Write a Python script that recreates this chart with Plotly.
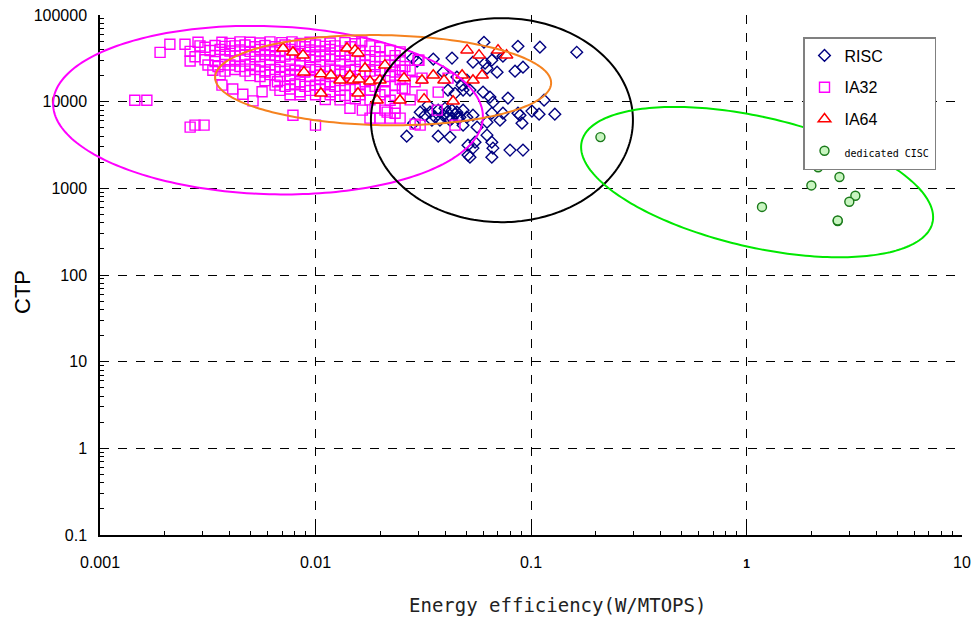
import numpy as np
import plotly.graph_objects as go

# ---------------- data ----------------
risc_x = [0.0605, 0.0870, 0.110, 0.163, 0.0696, 0.0658, 0.0741, 0.0538, 0.0612, 0.0430,
          0.0352, 0.0282, 0.0296, 0.0625, 0.0696, 0.0843, 0.0918, 0.0391, 0.0453, 0.0504,
          0.0478, 0.0412, 0.0444, 0.0484, 0.0521, 0.0599, 0.0645, 0.0666, 0.0782, 0.115,
          0.101, 0.109, 0.129, 0.0870, 0.0741, 0.0658, 0.0718, 0.0889, 0.0908, 0.0333,
          0.0306, 0.0322, 0.0340, 0.0371, 0.0408, 0.0430, 0.0453, 0.0484, 0.0408, 0.0430,
          0.0458, 0.0504, 0.0538, 0.0347, 0.0378, 0.0421, 0.0285, 0.0484, 0.0562, 0.0625,
          0.0468, 0.0265, 0.0371, 0.0421, 0.0510, 0.0538, 0.0625, 0.0658, 0.0666, 0.0799,
          0.0918, 0.0521, 0.0658, 0.0550, 0.0510, 0.0391, 0.0444, 0.0399, 0.0359]
risc_y = [48500, 43600, 42500, 37200, 36300, 30100, 33500, 28600, 27800, 31800,
          31000, 31800, 29300, 24300, 21900, 22500, 25000, 21900, 19200, 17700,
          15500, 13600, 12500, 13600, 13600, 12900, 11300, 9860, 11000, 10400,
          7780, 7180, 7180, 7360, 7360, 7360, 6120, 6980, 5650, 9120,
          7570, 6980, 7570, 7980, 7570, 7980, 7570, 7980, 6620, 6450,
          6450, 6620, 6980, 6120, 6120, 6120, 5650, 5360, 5080, 5800,
          6620, 4000, 4000, 3900, 3150, 2910, 4110, 3410, 2910, 2760,
          2760, 2290, 2290, 3410, 2420, 6980, 7180, 8400, 6620]

ia32_x = [
    # ~48000
    0.00211, 0.00248, 0.00285, 0.00368, 0.00401, 0.00446, 0.00497, 0.00553, 0.00615, 0.00698,
    0.00778, 0.00848, 0.00943, 0.0105, 0.0117, 0.0137, 0.0153, 0.0164,
    # ~44000
    0.00291, 0.00307, 0.00342, 0.0038, 0.00423, 0.00471, 0.00524, 0.00583, 0.00649, 0.00722,
    0.00803, 0.00894, 0.0100, 0.0111, 0.0123, 0.0145, 0.0179, 0.0199,
    # ~39000
    0.0019, 0.00262, 0.00324, 0.00361, 0.00401, 0.00446, 0.00497, 0.00553, 0.00615, 0.00684,
    0.00762, 0.00848, 0.00943, 0.0105, 0.0117, 0.0130, 0.0161, 0.0189, 0.0222, 0.0247,
    # ~34000
    0.00276, 0.00342, 0.0038, 0.00423, 0.00471, 0.00524, 0.00583, 0.00649, 0.00722, 0.00803,
    0.00894, 0.0100, 0.0111, 0.0123, 0.0137, 0.0153, 0.0170, 0.0199, 0.0234,
    # ~30000
    0.00262, 0.00307, 0.00342, 0.0038, 0.00423, 0.00471, 0.00553, 0.00615, 0.00684, 0.00762,
    0.00848, 0.00943, 0.0105, 0.0117, 0.0130, 0.0145, 0.0161, 0.0179, 0.0210, 0.0247, 0.0302,
    # ~26000
    0.00317, 0.00353, 0.00401, 0.00446, 0.00497, 0.00553, 0.00615, 0.00684, 0.00762, 0.00848,
    0.00943, 0.0105, 0.0117, 0.0130, 0.0145, 0.0170, 0.0189, 0.0222, 0.0260,
    # ~23000
    0.00334, 0.0038, 0.00423, 0.00471, 0.00524, 0.00583, 0.00649, 0.00722, 0.00803, 0.00894,
    0.0100, 0.0111, 0.0123, 0.0137, 0.0153, 0.0179, 0.0199, 0.0234, 0.0275,
    # ~20000
    0.00361, 0.00497, 0.00553, 0.00615, 0.00684, 0.00762, 0.00848, 0.00943, 0.0105, 0.0117,
    0.0130, 0.0145, 0.0161, 0.0189, 0.0222, 0.0247,
    # ~17500
    0.00583, 0.00666, 0.00762, 0.00848, 0.00943, 0.0105, 0.0117, 0.0130, 0.0145, 0.0170,
    0.0210, 0.0247, 0.0290,
    # ~15500
    0.00368, 0.00649, 0.00722, 0.00803, 0.00894, 0.0100, 0.0111, 0.0123, 0.0137, 0.0161,
    0.0189, 0.0234,
    # ~13600
    0.00413, 0.00684, 0.00762, 0.00848, 0.00943, 0.0105, 0.0117, 0.0130, 0.0153, 0.0179,
    0.0210, 0.0260,
    # ~12000
    0.00460, 0.00565, 0.00762, 0.00848, 0.0100, 0.0117, 0.0137, 0.0161, 0.0199, 0.0234,
    # ~10400
    0.00145, 0.00165, 0.00513, 0.0111, 0.0130, 0.0153, 0.0179, 0.0222, 0.0275,
    # lower / scattered
    0.00786, 0.0100, 0.00262, 0.00276, 0.00304, 0.0165, 0.0179, 0.0199, 0.0222, 0.0247,
    0.0215, 0.0234, 0.0290, 0.0306, 0.0367, 0.0444, 0.0299, 0.0312, 0.0412, 0.0253,
    0.0253, 0.0312, 0.0371, 0.0189, 0.0210, 0.0234, 0.01445]
ia32_y = [
    46000, 46000, 48500, 48500, 47000, 49000, 48500, 47500, 49000, 48000,
    49000, 47000, 48500, 49000, 47500, 48000, 46500, 49000,
    44000, 42500, 44500, 43500, 44000, 45000, 43000, 44500, 43000, 45000,
    44000, 43000, 45000, 43500, 44000, 43000, 44000, 42000,
    37000, 38000, 39000, 40000, 38500, 39500, 38000, 40000, 38500, 39000,
    40000, 38000, 39500, 38500, 40000, 38500, 39000, 38000, 39000, 37500,
    33000, 34000, 35000, 33500, 34500, 33000, 35000, 34000, 33500, 35000,
    34000, 33000, 34500, 33500, 35000, 33500, 34000, 33000, 34000,
    29500, 30500, 29000, 30500, 29500, 31000, 29500, 30500, 29000, 31000,
    29500, 30500, 29000, 31000, 29500, 30000, 29000, 30500, 29500, 30000, 30000,
    26500, 25500, 26500, 25500, 27000, 25500, 26500, 25000, 27000, 26000,
    25000, 26500, 25500, 27000, 25500, 26500, 25500, 26500, 25500,
    23000, 22500, 23500, 22500, 23500, 22000, 23500, 22500, 23000, 22000,
    23500, 22500, 23000, 22000, 23500, 22500, 23000, 22000, 23000,
    20500, 20000, 19500, 20500, 19500, 20000, 20500, 19500, 20000, 19500,
    20500, 19500, 20000, 20500, 19500, 20000,
    17500, 17000, 18000, 17000, 17500, 18000, 17000, 17500, 18000, 17000,
    17500, 18000, 17000,
    15500, 15500, 15000, 16000, 15000, 15500, 16000, 15000, 15500, 16000,
    15000, 15500,
    14000, 13500, 14000, 13000, 13500, 14000, 13000, 13500, 14000, 13500,
    13000, 14000,
    12200, 13000, 12000, 12000, 12000, 12000, 11800, 12000, 12000, 11800,
    10400, 10400, 10200, 10600, 10500, 10800, 10500, 10400, 10500,
    6980, 5360, 5080, 5360, 5360, 7980, 6450, 6450, 6450, 6450,
    7570, 7360, 5500, 5360, 7980, 5360, 30100, 18700, 18700, 23100,
    14300, 11900, 12900, 8400, 7980, 8400, 8400]

ia64_x = [0.00707, 0.00786, 0.00875, 0.0140, 0.01525, 0.01575, 0.01697, 0.0210, 0.00884, 0.0106,
          0.0118, 0.0130, 0.01445, 0.01493, 0.01592, 0.0179, 0.0199, 0.02574, 0.0106, 0.01575,
          0.0193, 0.02466, 0.0312, 0.0352, 0.0395, 0.0479, 0.0538, 0.0593, 0.0319, 0.0435,
          0.0505, 0.0574, 0.0703, 0.0770]
ia64_y = [41400, 37200, 34400, 41400, 39300, 36300, 24300, 26400, 21900, 20800,
          20200, 17700, 20200, 17700, 18200, 17200, 17700, 18700, 12500, 12500,
          10400, 10400, 17700, 20200, 17700, 20200, 17700, 20200, 10700, 10100,
          39300, 34400, 39300, 34400]

cisc_x = [0.21, 2.15, 2.7, 2.0, 3.2, 3.0, 2.65, 2.65, 1.18]
cisc_y = [3900, 1750, 1350, 1080, 820, 700, 420, 425, 610]

x_tickvals = [0.001, 0.01, 0.1, 1, 10]
x_ticktext = ["0.001", "0.01", "0.1", "<span style='font-size:12px'><b>1</b></span>", "10"]
y_tickvals = [0.1, 1, 10, 100, 1000, 10000, 100000]
y_ticktext = ["0.1", "1", "10", "100", "1000", "10000", "100000"]

# ellipses drawn around the groups: centre (data), semi-axes (px), rotation (deg)
ellipses = [
    dict(cx=0.00602, cy=7980, rx=215, ry=84, ang=2, color="#FF00FF"),
    dict(cx=0.0206, cy=17700, rx=168, ry=45, ang=1, color="#F5821F"),
    dict(cx=0.0733, cy=6120, rx=131, ry=102, ang=0, color="#000000"),
    dict(cx=1.12, cy=1180, rx=180, ry=65, ang=13, color="#00E800"),
]

# ---------------- layout geometry ----------------
W, H = 973, 623
ML, MR, MT, MB = 100, 11, 15, 88
XR = [-3, 1]
YR = [-1, 5]
PW = W - ML - MR
PH = H - MT - MB
sx = PW / (XR[1] - XR[0])
sy = PH / (YR[1] - YR[0])


def ellipse_path(cx, cy, rx, ry, ang):
    t = np.linspace(0, 2 * np.pi, 240)
    u = rx * np.cos(t)
    v = ry * np.sin(t)
    a = np.deg2rad(ang)
    du = u * np.cos(a) - v * np.sin(a)
    dv = u * np.sin(a) + v * np.cos(a)
    lx = np.log10(cx) + du / sx
    ly = np.log10(cy) - dv / sy
    px = (lx - XR[0]) / (XR[1] - XR[0])
    py = (ly - YR[0]) / (YR[1] - YR[0])
    pts = [f"{a_:.5f},{b_:.5f}" for a_, b_ in zip(px, py)]
    return "M " + " L ".join(pts) + " Z"


def minor_vals(lo, hi):
    vals = []
    for d in range(lo, hi):
        for m in range(2, 10):
            vals.append(m * 10.0 ** d)
    return vals


fig = go.Figure()

fig.add_trace(go.Scatter(x=risc_x, y=risc_y, mode="markers", name="RISC", legendgroup="a",
                         marker=dict(symbol="diamond-open", size=9, color="#000080",
                                     line=dict(width=1.4, color="#000080"))))
fig.add_trace(go.Scatter(x=ia32_x, y=ia32_y, mode="markers", name="IA32", legendgroup="b",
                         marker=dict(symbol="square-open", size=10, color="#FF00FF",
                                     line=dict(width=1.4, color="#FF00FF"))))
fig.add_trace(go.Scatter(x=ia64_x, y=ia64_y, mode="markers", name="IA64", legendgroup="c",
                         marker=dict(symbol="triangle-up", size=11, color="white",
                                     line=dict(width=1.5, color="#FF0000"))))
fig.add_trace(go.Scatter(x=cisc_x, y=cisc_y, mode="markers",
                         name="<span style='font-family:DejaVu Sans Mono;font-size:10px'>dedicated CISC</span>",
                         legendgroup="d",
                         marker=dict(symbol="circle", size=9, color="#C8F5C0",
                                     line=dict(width=1.4, color="#1A7A1A"))))

shapes = []
for e in ellipses:
    shapes.append(dict(type="path", xref="paper", yref="paper", layer="above",
                       path=ellipse_path(e["cx"], e["cy"], e["rx"], e["ry"], e["ang"]),
                       line=dict(color=e["color"], width=2), fillcolor="rgba(0,0,0,0)"))

axis_common = dict(
    type="log", showline=True, linecolor="black", linewidth=1.5,
    ticks="inside", ticklen=7, tickcolor="black", tickwidth=1,
    showgrid=True, gridcolor="black", gridwidth=1, griddash="dash",
    zeroline=False, tickmode="array", automargin=False,
    tickfont=dict(family="Liberation Sans, Arial", size=16, color="black"),
)

fig.update_layout(
    width=W, height=H,
    margin=dict(l=ML, r=MR, t=MT, b=MB, autoexpand=False),
    paper_bgcolor="white", plot_bgcolor="white",
    showlegend=True,
    legend=dict(x=(803 - ML) / PW, y=(H - MB - 37) / PH, xanchor="left", yanchor="top",
                bgcolor="white", bordercolor="#808080", borderwidth=1.5,
                font=dict(family="Liberation Sans, Arial", size=16, color="black"),
                tracegroupgap=8, itemwidth=30),
    xaxis=dict(axis_common, range=XR, tickvals=x_tickvals, ticktext=x_ticktext,
               ticklabelstandoff=12,
               minor=dict(ticks="inside", ticklen=4, tickcolor="black", showgrid=False,
                          tickmode="array", tickvals=minor_vals(XR[0], XR[1]))),
    yaxis=dict(axis_common, range=YR, tickvals=y_tickvals, ticktext=y_ticktext,
               ticklabelstandoff=8,
               minor=dict(ticks="inside", ticklen=4, tickcolor="black", showgrid=False,
                          tickmode="array", tickvals=minor_vals(YR[0], YR[1]))),
    shapes=shapes,
    annotations=[
        dict(text="Energy efficiency(W/MTOPS)", xref="paper", yref="paper",
             x=(557 - ML) / PW, y=(H - MB - 605) / PH,
             xanchor="center", yanchor="middle", showarrow=False,
             font=dict(family="DejaVu Sans Mono", size=19, color="#222222")),
        dict(text="CTP", xref="paper", yref="paper", textangle=-90,
             x=(22 - ML) / PW, y=(H - MB - 292) / PH,
             xanchor="center", yanchor="middle", showarrow=False,
             font=dict(family="Liberation Sans, Arial", size=22, color="black")),
    ],
)

fig.write_html("out.html")
